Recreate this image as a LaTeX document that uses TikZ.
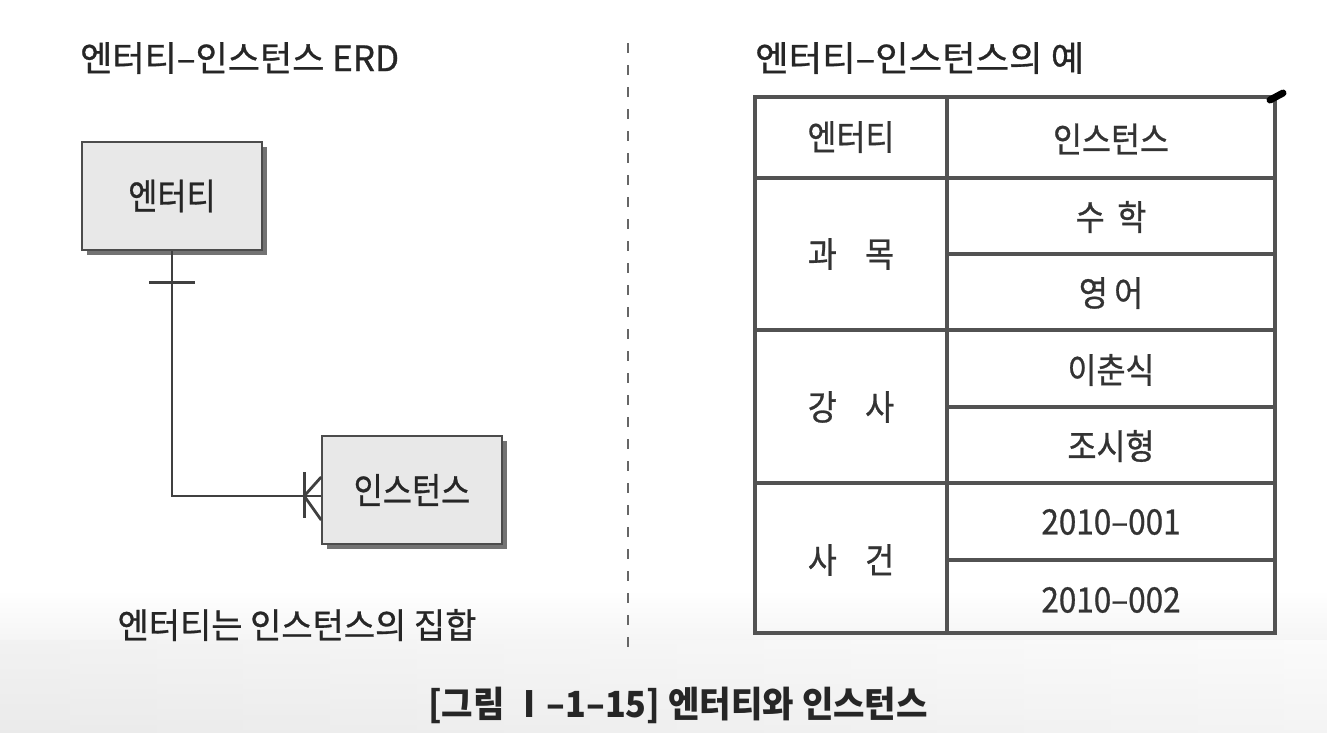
\documentclass[tikz,border=0pt]{standalone}
\usepackage{fontspec}
\setmainfont{Noto Sans CJK KR}
\newfontfamily\medfont{Noto Sans CJK KR}[FakeBold=0.8]
\usetikzlibrary{shadows,calc}
\begin{document}
\begin{tikzpicture}[x=1pt,y=-1pt,
  erbox/.style={draw=black!70, line width=1.6pt, fill=black!9,
    drop shadow={shadow xshift=5pt, shadow yshift=-5pt, fill=black!55, opacity=1},
    minimum width=180pt, minimum height=108pt, inner sep=0pt,
    font=\medfont\fontsize{36}{40}\selectfont, text=black!85},
  title/.style={font=\medfont\fontsize{35}{40}\selectfont, text=black!85, inner sep=0pt},
  cell/.style={font=\medfont\fontsize{35}{40}\selectfont, text=black!80, inner sep=0pt, xscale=0.9},
  tline/.style={draw=black!68, line width=3.2pt},
  erline/.style={draw=black!75, line width=2.8pt}
]
\useasboundingbox (0,0) rectangle (1327,732);
% background bottom gradient
\shade[top color=white, bottom color=black!11] (0,590) rectangle (1327,732);
\shade[left color=black!6, right color=white, opacity=0.6] (0,640) rectangle (1327,732);

% titles
\node[title, anchor=west] (t1) at (80,58) {엔터티–인스턴스 ERD};
\node[title, anchor=west] (t2) at (755,58) {\scalebox{1.04}[1]{엔터티–인스턴스의 예}};

% dashed separator
\coordinate (d1) at (628,43);
\coordinate (d2) at (628,655);
\draw[draw=black!60, line width=2.2pt, dash pattern=on 10pt off 12pt] (d1) -- (d2);

% ERD
\node[erbox] (ent) at (172,196) {\scalebox{0.88}[1]{엔터티}};
\node[erbox] (inst) at (412,490) {\scalebox{0.88}[1]{인스턴스}};
\coordinate (j) at ($(inst.west)+(0,6)$);
\coordinate (tip) at ($(j)+(-17,0)$);
\draw[erline] (ent.south) |- (j);
\draw[erline] ($(ent.south)+(-23,32)$) -- ++(46,0);
\draw[erline] (tip) -- ++(17,-19);
\draw[erline] (tip) -- ++(17,24);
\draw[erline] ($(tip)+(0,-24)$) -- ++(0,46);

\node[title] (cap1) at (297,625) {\scalebox{0.97}[1]{엔터티는 인스턴스의 집합}};

% table
\coordinate (tl) at (755,97);
\coordinate (br) at (1275,633);
\draw[tline] (tl) rectangle (br);
\draw[tline] (947,97) -- (947,633);
\foreach \yy in {178,330,483} \draw[tline] (755,\yy) -- (1275,\yy);
\foreach \yy in {254,407,560} \draw[tline] (947,\yy) -- (1275,\yy);

\node[cell] (h1) at (851,137) {엔터티};
\node[cell] (h2) at (1111,139) {인스턴스};
\node[cell] (e1) at (851,254) {과\hspace{0.9em}목};
\node[cell] (e2) at (851,407) {강\hspace{0.9em}사};
\node[cell] (e3) at (851,560) {사\hspace{0.9em}건};
\node[cell] (i1) at (1111,217) {수\hspace{0.4em}학};
\node[cell] (i2) at (1111,293) {영\hspace{0.2em}어};
\node[cell] (i3) at (1111,370) {이춘식};
\node[cell] (i4) at (1111,446) {조시형};
\node[cell] (i5) at (1111,522) {2010–001};
\node[cell] (i6) at (1111,600) {2010–002};

% stray pen mark
\coordinate (m1) at (1270,100);
\coordinate (m2) at (1283,93);
\draw[black, line width=7pt, line cap=round] (m1) -- (m2);

% caption
\node[title, font=\fontsize{36}{40}\selectfont\bfseries] (cap) at (678,705) {\scalebox{0.95}[1]{[그림 Ⅰ–1–15] 엔터티와 인스턴스}};
\end{tikzpicture}
\end{document}
